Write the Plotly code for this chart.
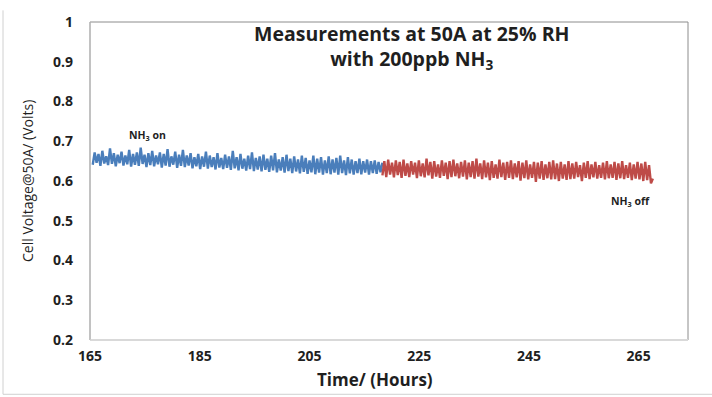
import numpy as np
import plotly.graph_objects as go

# ---- data ----
blue_start, blue_end = 165.5, 218.3
red_start, red_end = 218.3, 267.6

blue_volts = [
    0.641, 0.672, 0.646, 0.668, 0.638, 0.676, 0.644, 0.662, 0.640, 0.682,
    0.643, 0.670, 0.637, 0.666, 0.645, 0.674, 0.639, 0.664, 0.642, 0.678,
    0.636, 0.668, 0.641, 0.672, 0.638, 0.684, 0.643, 0.666, 0.635, 0.670,
    0.640, 0.676, 0.637, 0.664, 0.642, 0.672, 0.634, 0.668, 0.639, 0.680,
    0.636, 0.662, 0.641, 0.674, 0.633, 0.666, 0.638, 0.678, 0.635, 0.664,
    0.639, 0.670, 0.632, 0.660, 0.637, 0.668, 0.630, 0.662, 0.636, 0.674,
    0.631, 0.664, 0.635, 0.660, 0.629, 0.670, 0.634, 0.658, 0.630, 0.666,
    0.633, 0.662, 0.628, 0.676, 0.632, 0.660, 0.627, 0.668, 0.631, 0.656,
    0.626, 0.664, 0.630, 0.672, 0.625, 0.658, 0.629, 0.662, 0.624, 0.666,
    0.628, 0.656, 0.623, 0.664, 0.627, 0.670, 0.622, 0.654, 0.626, 0.660,
    0.621, 0.666, 0.625, 0.656, 0.620, 0.662, 0.624, 0.654, 0.619, 0.664,
    0.623, 0.658, 0.618, 0.652, 0.622, 0.664, 0.617, 0.656, 0.621, 0.660,
    0.616, 0.652, 0.620, 0.662, 0.617, 0.654, 0.621, 0.658, 0.616, 0.664,
    0.620, 0.652, 0.615, 0.660, 0.619, 0.654, 0.616, 0.650, 0.620, 0.656,
    0.617, 0.650, 0.621, 0.654, 0.616, 0.650, 0.620, 0.652, 0.618, 0.648,
    0.622, 0.646,
]

red_volts = [
    0.614, 0.650, 0.610, 0.654, 0.616, 0.646, 0.609, 0.652, 0.615, 0.648,
    0.608, 0.654, 0.613, 0.644, 0.610, 0.650, 0.616, 0.646, 0.607, 0.652,
    0.612, 0.644, 0.609, 0.656, 0.614, 0.648, 0.606, 0.650, 0.611, 0.642,
    0.608, 0.652, 0.613, 0.646, 0.605, 0.650, 0.610, 0.654, 0.612, 0.644,
    0.607, 0.648, 0.611, 0.652, 0.604, 0.646, 0.610, 0.650, 0.606, 0.656,
    0.611, 0.644, 0.605, 0.652, 0.609, 0.646, 0.602, 0.650, 0.608, 0.642,
    0.606, 0.654, 0.610, 0.646, 0.603, 0.648, 0.608, 0.652, 0.605, 0.644,
    0.609, 0.650, 0.601, 0.646, 0.607, 0.652, 0.604, 0.642, 0.608, 0.648,
    0.598, 0.646, 0.606, 0.650, 0.603, 0.642, 0.607, 0.648, 0.604, 0.652,
    0.605, 0.644, 0.600, 0.648, 0.606, 0.642, 0.603, 0.650, 0.605, 0.644,
    0.606, 0.648, 0.610, 0.640, 0.600, 0.646, 0.608, 0.650, 0.605, 0.642,
    0.609, 0.648, 0.606, 0.640, 0.608, 0.646, 0.604, 0.650, 0.607, 0.642,
    0.608, 0.648, 0.603, 0.644, 0.607, 0.650, 0.605, 0.640, 0.608, 0.646,
    0.602, 0.642, 0.606, 0.648, 0.604, 0.644, 0.600, 0.648, 0.602, 0.640,
    0.594, 0.606,
]

x_ticks = [165, 185, 205, 225, 245, 265]
y_ticks = [0.2, 0.3, 0.4, 0.5, 0.6, 0.7, 0.8, 0.9, 1.0]
y_tick_text = ["0.2", "0.3", "0.4", "0.5", "0.6", "0.7", "0.8", "0.9", "1"]

blue_hours = np.linspace(blue_start, blue_end, len(blue_volts))
red_hours = np.linspace(red_start, red_end, len(red_volts))

FONT = "Open Sans"
TXT = "#1f1f1f"

fig = go.Figure()
fig.add_trace(go.Scatter(x=blue_hours, y=blue_volts, mode="lines",
                         line=dict(color="#4a7ebb", width=2.4, simplify=False),
                         showlegend=False))
fig.add_trace(go.Scatter(x=red_hours, y=red_volts, mode="lines",
                         line=dict(color="#be4b48", width=2.4, simplify=False),
                         showlegend=False))

tickfont = dict(size=14, family=FONT, color=TXT, weight="bold")
fig.update_layout(
    width=712, height=397,
    margin=dict(l=90, r=24, t=12, b=57),
    paper_bgcolor="white", plot_bgcolor="white",
    font=dict(family=FONT, color=TXT),
    xaxis=dict(range=[165, 274], tickvals=x_ticks, showgrid=False, zeroline=False,
               showline=False, ticks="", tickfont=tickfont, ticklabelstandoff=6),
    yaxis=dict(range=[0.2, 1.0], tickvals=y_ticks, ticktext=y_tick_text, showgrid=False,
               zeroline=False, showline=False, ticks="", tickfont=tickfont,
               ticklabelstandoff=16),
)

shapes = [
    dict(type="rect", xref="paper", yref="paper", x0=0, x1=1, y0=0, y1=1,
         line=dict(color="#8c8c8c", width=1)),
    dict(type="line", xref="paper", yref="paper", x0=0, x1=1, y0=0, y1=0,
         line=dict(color="#d9d9d9", width=2)),
    dict(type="line", xref="paper", yref="paper", x0=0, x1=0, y0=0, y1=1,
         line=dict(color="#bfbfbf", width=1)),
    # outer slide frame
    dict(type="line", xref="paper", yref="paper", x0=-87 / 598, x1=-87 / 598,
         y0=-56 / 328, y1=1 + 12 / 328, line=dict(color="#d0d0d0", width=1)),
    dict(type="line", xref="paper", yref="paper", x0=-87 / 598, x1=1 + 24 / 598,
         y0=-56 / 328, y1=-56 / 328, line=dict(color="#d0d0d0", width=1)),
]
fig.update_layout(shapes=shapes)

bold = dict(family=FONT, color=TXT, weight="bold")
fig.add_annotation(xref="paper", yref="paper", x=0.537, y=1.012, yanchor="top",
                   showarrow=False, align="center",
                   text="Measurements at 50A at 25% RH<br>with 200ppb NH<sub>3</sub>",
                   font=dict(size=19.5, **bold))
fig.add_annotation(x=175.4, y=0.715, showarrow=False, text="NH<sub>3</sub> on",
                   font=dict(size=10.5, **bold))
fig.add_annotation(x=263.5, y=0.549, showarrow=False, text="NH<sub>3</sub> off",
                   font=dict(size=10.5, **bold))
fig.add_annotation(xref="paper", yref="paper", x=(375 - 90) / 598, y=-41 / 328,
                   yanchor="middle", showarrow=False, text="Time/ (Hours)",
                   font=dict(size=17, **bold))
fig.add_annotation(xref="paper", yref="paper", x=-63 / 598, y=0.5,
                   xanchor="center", showarrow=False, textangle=-90,
                   text="Cell Voltage@50A/ (Volts)",
                   font=dict(size=14, family=FONT, color=TXT))

fig.write_html("out.html")
